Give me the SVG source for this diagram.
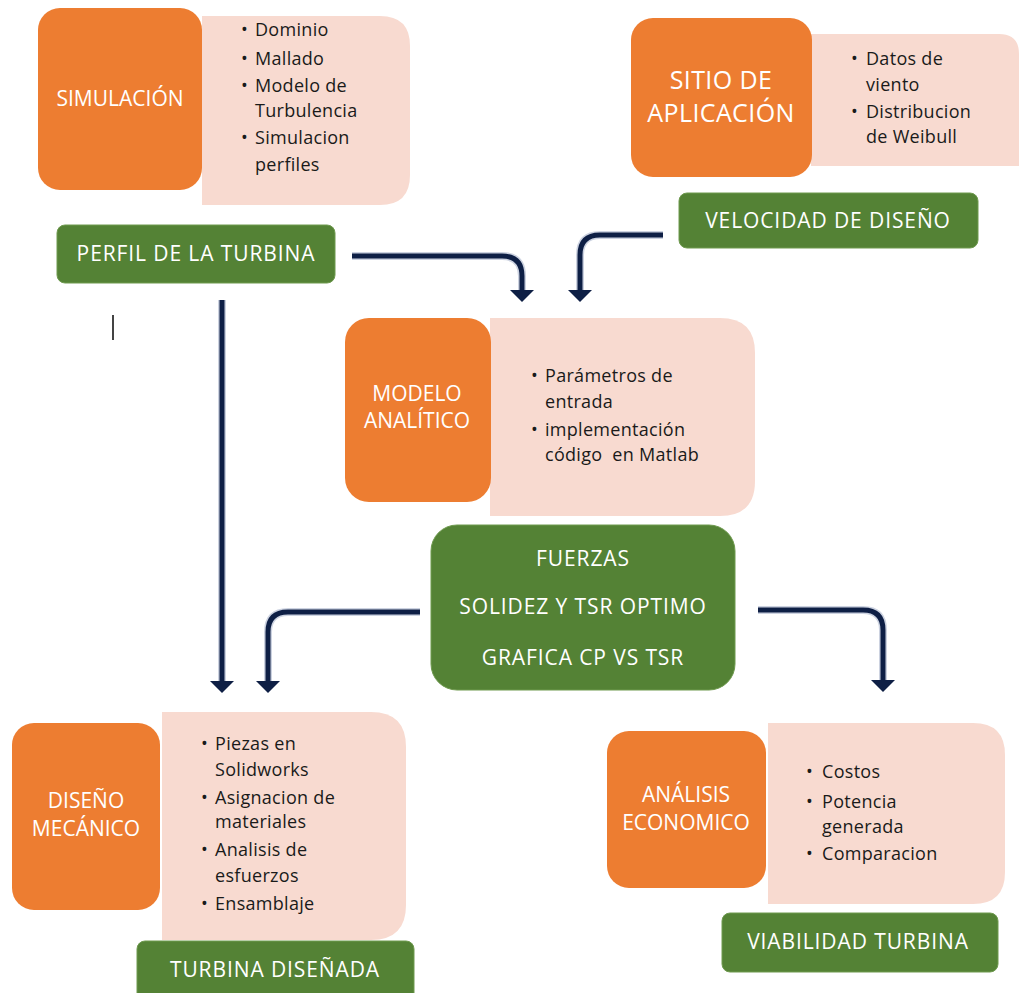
<svg xmlns="http://www.w3.org/2000/svg" width="1019" height="993" viewBox="0 0 1019 993">
<style>
.or{fill:#ED7D31}
.pk{fill:#F8DAD0}
.gr{fill:#548235;stroke:#6f9a4f;stroke-width:1}
.wt{fill:#FFFFFF;font-family:"Open Sans","Liberation Sans",Arial,sans-serif;font-size:21px;text-anchor:middle}
.wg{fill:#FFFFFF;font-family:"Open Sans","Liberation Sans",Arial,sans-serif;font-size:21px;letter-spacing:0.9px;text-anchor:middle}
.wl{fill:#FFFFFF;font-family:"Open Sans","Liberation Sans",Arial,sans-serif;font-size:25px;letter-spacing:0.4px;text-anchor:middle}
.bt{fill:#1a1a1a;font-family:"Open Sans","Liberation Sans",Arial,sans-serif;font-size:18px;letter-spacing:0.3px}
.cn{fill:none;stroke:#0E1F45;stroke-width:5}
.cs{fill:none;stroke:#6d7fa6;stroke-width:8;stroke-opacity:0.35}
</style>
<rect width="1019" height="993" fill="#FFFFFF"/>

<g id="connectors">
<path class="cs" d="M352,256 H502 Q522,256 522,276 V292"/>
<path class="cn" d="M352,256 H502 Q522,256 522,276 V292"/>
<path d="M510,290 H534 L522,302 Z" fill="#0E1F45"/>
<path class="cs" d="M663,235 H600 Q580,235 580,255 V292"/>
<path class="cn" d="M663,235 H600 Q580,235 580,255 V292"/>
<path d="M568,290 H592 L580,302 Z" fill="#0E1F45"/>
<path class="cs" d="M222,300 V683"/>
<path class="cn" d="M222,300 V683"/>
<path d="M210,681 H234 L222,693 Z" fill="#0E1F45"/>
<path class="cs" d="M420,612 H288 Q268,612 268,632 V683"/>
<path class="cn" d="M420,612 H288 Q268,612 268,632 V683"/>
<path d="M256,681 H280 L268,693 Z" fill="#0E1F45"/>
<path class="cs" d="M758,610 H863 Q883,610 883,630 V682"/>
<path class="cn" d="M758,610 H863 Q883,610 883,630 V682"/>
<path d="M871,680 H895 L883,692 Z" fill="#0E1F45"/>
</g>

<line x1="113" y1="315" x2="113" y2="340" stroke="#444" stroke-width="2"/>

<g id="simulacion">
<path class="pk" d="M202,16 H380 Q410,16 410,46 V175 Q410,205 380,205 H202 Z"/>
<rect class="or" x="38" y="8" width="164" height="182" rx="22"/>
<text class="wt" x="120" y="106">SIMULACIÓN</text>
<text class="bt"><tspan x="241" y="36">•</tspan><tspan x="255" y="36">Dominio</tspan>
<tspan x="241" y="65">•</tspan><tspan x="255" y="65">Mallado</tspan>
<tspan x="241" y="92">•</tspan><tspan x="255" y="92">Modelo de</tspan>
<tspan x="255" y="117">Turbulencia</tspan>
<tspan x="241" y="144">•</tspan><tspan x="255" y="144">Simulacion</tspan>
<tspan x="255" y="171">perfiles</tspan></text>
</g>

<g id="perfil">
<rect class="gr" x="57" y="225" width="278" height="58" rx="8"/>
<text class="wg" x="196" y="261">PERFIL DE LA TURBINA</text>
</g>

<g id="sitio">
<path class="pk" d="M811,34 H999 Q1019,34 1019,54 V166 H811 Z"/>
<rect class="or" x="631" y="18" width="181" height="159" rx="22"/>
<text class="wl" x="721" y="89">SITIO DE</text>
<text class="wl" x="721" y="122">APLICACIÓN</text>
<text class="bt"><tspan x="851" y="65">•</tspan><tspan x="866" y="65">Datos de</tspan>
<tspan x="866" y="91">viento</tspan>
<tspan x="851" y="118">•</tspan><tspan x="866" y="118">Distribucion</tspan>
<tspan x="866" y="143">de Weibull</tspan></text>
</g>

<g id="velocidad">
<rect class="gr" x="679" y="193" width="299" height="55" rx="8"/>
<text class="wg" x="828" y="228">VELOCIDAD DE DISEÑO</text>
</g>

<g id="modelo">
<path class="pk" d="M490,318 H720 Q755,318 755,353 V481 Q755,516 720,516 H490 Z"/>
<rect class="or" x="345" y="318" width="146" height="184" rx="24"/>
<text class="wt" x="417" y="401">MODELO</text>
<text class="wt" x="417" y="428">ANALÍTICO</text>
<text class="bt"><tspan x="531" y="382">•</tspan><tspan x="545" y="382">Parámetros de</tspan>
<tspan x="545" y="408">entrada</tspan>
<tspan x="531" y="436">•</tspan><tspan x="545" y="436">implementación</tspan>
<tspan x="545" y="461" xml:space="preserve">código  en Matlab</tspan></text>
</g>

<g id="fuerzas">
<rect class="gr" x="431" y="525" width="304" height="165" rx="26"/>
<text class="wg" x="583" y="566">FUERZAS</text>
<text class="wg" x="583" y="614">SOLIDEZ Y TSR OPTIMO</text>
<text class="wg" x="583" y="665">GRAFICA CP VS TSR</text>
</g>

<g id="diseno">
<path class="pk" d="M162,712 H371 Q406,712 406,747 V905 Q406,940 371,940 H162 Z"/>
<rect class="or" x="12" y="723" width="148" height="187" rx="22"/>
<text class="wt" x="86" y="808">DISEÑO</text>
<text class="wt" x="86" y="836">MECÁNICO</text>
<text class="bt"><tspan x="201" y="750">•</tspan><tspan x="215" y="750">Piezas en</tspan>
<tspan x="215" y="776">Solidworks</tspan>
<tspan x="201" y="804">•</tspan><tspan x="215" y="804">Asignacion de</tspan>
<tspan x="215" y="828">materiales</tspan>
<tspan x="201" y="856">•</tspan><tspan x="215" y="856">Analisis de</tspan>
<tspan x="215" y="882">esfuerzos</tspan>
<tspan x="201" y="910">•</tspan><tspan x="215" y="910">Ensamblaje</tspan></text>
</g>

<g id="turbina">
<rect class="gr" x="137" y="941" width="277" height="62" rx="8"/>
<text class="wg" x="275" y="977">TURBINA DISEÑADA</text>
</g>

<g id="analisis">
<path class="pk" d="M768,723 H973 Q1005,723 1005,755 V872 Q1005,904 973,904 H768 Z"/>
<rect class="or" x="607" y="731" width="159" height="157" rx="22"/>
<text class="wt" x="686" y="802">ANÁLISIS</text>
<text class="wt" x="686" y="830">ECONOMICO</text>
<text class="bt"><tspan x="806" y="778">•</tspan><tspan x="822" y="778">Costos</tspan>
<tspan x="806" y="808">•</tspan><tspan x="822" y="808">Potencia</tspan>
<tspan x="822" y="833">generada</tspan>
<tspan x="806" y="860">•</tspan><tspan x="822" y="860">Comparacion</tspan></text>
</g>

<g id="viabilidad">
<rect class="gr" x="722" y="913" width="276" height="59" rx="8"/>
<text class="wg" x="858" y="949">VIABILIDAD TURBINA</text>
</g>
</svg>
